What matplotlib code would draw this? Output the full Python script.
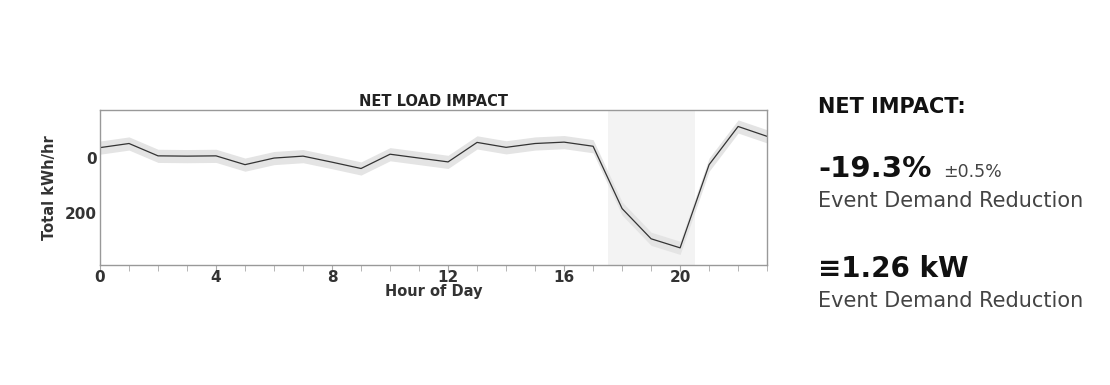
"""
Net load impact chart with summary numbers on the right.
"""
import numpy as np
import matplotlib.pyplot as plt

# Hourly net load impact (kWh/hr)
hours = list(range(24))
net_load = [-37, -52, -7, -6, -7, 25, 1, -6, 16, 39, -13, 1,
            15, -56, -38, -52, -57, -42, 185, 295, 328, 25, -114, -78]
band = [24] * 24  # half-width of the uncertainty band

event_start = 17.5
event_end = 20.5

x_ticks = [0, 4, 8, 12, 16, 20]
y_ticks = [0, 200]

summary_pct = "-19.3%"
summary_pct_err = "±0.5%"
summary_kw = "≡1.26 kW"
summary_caption = "Event Demand Reduction"

fig = plt.figure(figsize=(11.1, 3.85), dpi=100)
ax = fig.add_axes([0.0901, 0.312, 0.601, 0.403])

hrs = np.array(hours)
load = np.array(net_load)
err = np.array(band)

# Event window shading
ax.axvspan(event_start, event_end, color='#f3f3f3', zorder=0, lw=0)

# Uncertainty band and mean line
ax.fill_between(hrs, load - err, load + err, color='#e4e4e4', lw=0, zorder=1)
ax.plot(hrs, load, color='#333333', lw=0.9, zorder=2)

ax.set_xlim(0, 23)
ax.set_ylim(390, -175)

ax.set_xticks(x_ticks)
ax.set_xticks(hours, minor=True)
ax.set_yticks(y_ticks)
ax.tick_params(axis='x', which='both', direction='out', length=4,
               color='#aaaaaa', labelsize=11, labelcolor='#333333', pad=0)
ax.tick_params(axis='y', length=0, labelsize=11, labelcolor='#333333', pad=2)
for lbl in ax.get_xticklabels() + ax.get_yticklabels():
    lbl.set_fontweight('bold')

for sp in ax.spines.values():
    sp.set_color('#999999')
    sp.set_linewidth(1.0)

ax.set_title('NET LOAD IMPACT', fontsize=10.5, fontweight='semibold',
             color='#222222', pad=3)
ax.set_xlabel('Hour of Day', fontsize=10.5, fontweight='bold',
              color='#333333', labelpad=-1)
ax.set_ylabel('Total kWh/hr', fontsize=10.5, fontweight='bold',
              color='#333333', labelpad=6)

# Summary panel on the right
x0 = 818 / 1110
fig.text(x0, 1 - 113 / 385, 'NET IMPACT:', fontsize=15, fontweight='bold',
         color='#111111', va='baseline')
fig.text(x0, 1 - 177 / 385, summary_pct, fontsize=21, fontweight='bold',
         color='#111111', va='baseline')
fig.text(943 / 1110, 1 - 177 / 385, summary_pct_err, fontsize=12.5,
         color='#444444', va='baseline')
fig.text(x0, 1 - 207 / 385, summary_caption, fontsize=15,
         color='#444444', va='baseline')
fig.text(x0, 1 - 277 / 385, summary_kw, fontsize=20, fontweight='bold',
         color='#111111', va='baseline')
fig.text(x0, 1 - 307 / 385, summary_caption, fontsize=15,
         color='#444444', va='baseline')

fig.savefig('out.png', dpi=100)
